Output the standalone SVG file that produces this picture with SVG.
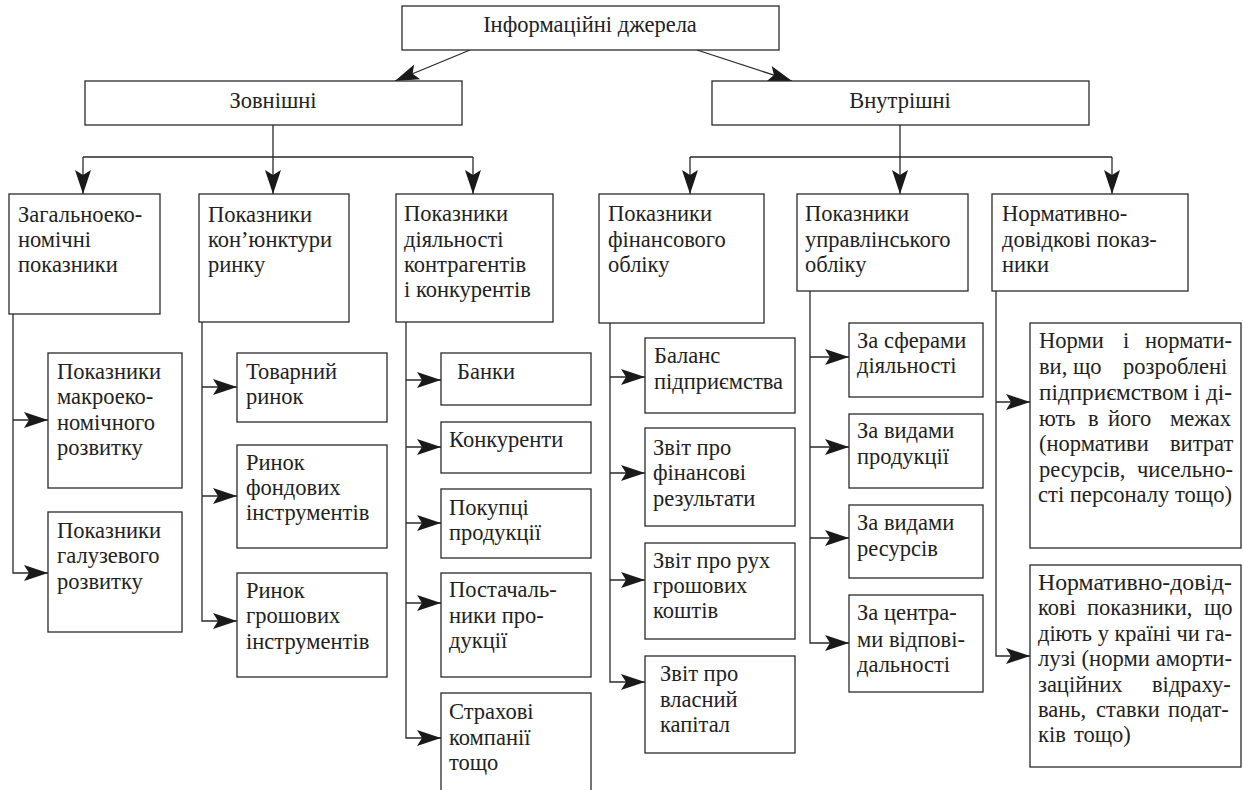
<svg xmlns="http://www.w3.org/2000/svg" width="1243" height="790" viewBox="0 0 1243 790">
<defs>
<marker id="ah" viewBox="-26 -9 27 18" refX="0" refY="0" markerWidth="27" markerHeight="18" markerUnits="userSpaceOnUse" orient="auto">
<path d="M0,0 L-24,-8 L-19,0 L-24,8 Z" fill="#1a1a1a"/>
</marker>
</defs>

<g id="connectors" fill="none" stroke="#2a2a2a" stroke-width="1.3">
<path d="M273,125 V157 M83,157 H473 M690,157 H1112 M900,125 V157"/>
<g marker-end="url(#ah)">
<path d="M470,50 L395,81"/>
<path d="M697,50 L792,81"/>
<path d="M83,157 V194"/>
<path d="M273,157 V194"/>
<path d="M473,157 V194"/>
<path d="M690,157 V194"/>
<path d="M900,157 V194"/>
<path d="M1112,157 V194"/>
<path d="M13,420 H48"/>
<path d="M13,314 V573 H48"/>
<path d="M202,387 H237"/>
<path d="M202,496 H237"/>
<path d="M202,322 V621 H237"/>
<path d="M406,380 H441"/>
<path d="M406,447 H441"/>
<path d="M406,523 H441"/>
<path d="M406,603 H441"/>
<path d="M406,322 V738 H441"/>
<path d="M610,377 H645"/>
<path d="M610,473 H645"/>
<path d="M610,580 H645"/>
<path d="M610,323 V682 H645"/>
<path d="M810,357 H849"/>
<path d="M810,447 H849"/>
<path d="M810,538 H849"/>
<path d="M810,291 V643 H849"/>
<path d="M996,402 H1030"/>
<path d="M996,291 V656 H1030"/>
</g>
</g>

<g id="boxes" fill="#fff" stroke="#2a2a2a" stroke-width="1.3">
<rect id="b-root" x="402" y="6" width="377" height="44"/>
<rect id="b-external" x="85" y="81" width="377" height="44"/>
<rect id="b-internal" x="712" y="81" width="377" height="44"/>
<rect id="b-general" x="9" y="194" width="151" height="120"/>
<rect id="b-market" x="199" y="194" width="150" height="128"/>
<rect id="b-counterparts" x="396" y="194" width="157" height="128"/>
<rect id="b-finacc" x="599" y="194" width="165" height="129"/>
<rect id="b-mgmtacc" x="797" y="194" width="171" height="97"/>
<rect id="b-normative" x="992" y="194" width="196" height="97"/>
<rect id="b-macro" x="48" y="353" width="134" height="135"/>
<rect id="b-branch" x="48" y="512" width="134" height="120"/>
<rect id="b-goods" x="237" y="353" width="150" height="69"/>
<rect id="b-stock" x="237" y="445" width="150" height="103"/>
<rect id="b-money" x="237" y="573" width="150" height="104"/>
<rect id="b-banks" x="441" y="353" width="150" height="52"/>
<rect id="b-competitors" x="441" y="422" width="150" height="51"/>
<rect id="b-buyers" x="441" y="489" width="150" height="69"/>
<rect id="b-suppliers" x="441" y="573" width="150" height="104"/>
<rect id="b-insurance" x="441" y="693" width="150" height="110"/>
<rect id="b-balance" x="645" y="338" width="150" height="75"/>
<rect id="b-results" x="645" y="428" width="150" height="98"/>
<rect id="b-cashflow" x="645" y="543" width="150" height="96"/>
<rect id="b-equity" x="645" y="656" width="150" height="97"/>
<rect id="b-spheres" x="849" y="323" width="134" height="74"/>
<rect id="b-products" x="849" y="414" width="134" height="74"/>
<rect id="b-resources" x="849" y="505" width="134" height="73"/>
<rect id="b-centers" x="849" y="595" width="134" height="97"/>
<rect id="b-norms" x="1030" y="323" width="211" height="225"/>
<rect id="b-reference" x="1030" y="565" width="211" height="202"/>
</g>

<g id="labels" fill="#222">
<g id="root"><text font-family="Liberation Serif" font-size="22.5" text-anchor="middle" x="590" y="32">Інформаційні джерела</text></g>
<g id="external"><text font-family="Liberation Serif" font-size="22.5" text-anchor="middle" x="273" y="108">Зовнішні</text></g>
<g id="internal"><text font-family="Liberation Serif" font-size="22.5" text-anchor="middle" x="900" y="108">Внутрішні</text></g>
<g id="general"><text font-family="Liberation Serif" font-size="22.5" x="18" y="222">Загальноеко-</text><text font-family="Liberation Serif" font-size="22.5" x="18" y="247">номічні</text><text font-family="Liberation Serif" font-size="22.5" x="18" y="272">показники</text></g>
<g id="market"><text font-family="Liberation Serif" font-size="22.5" x="208" y="222">Показники</text><text font-family="Liberation Serif" font-size="22.5" x="208" y="247">кон’юнктури</text><text font-family="Liberation Serif" font-size="22.5" x="208" y="272">ринку</text></g>
<g id="counterparts"><text font-family="Liberation Serif" font-size="22.5" x="404" y="221">Показники</text><text font-family="Liberation Serif" font-size="22.5" x="404" y="247">діяльності</text><text font-family="Liberation Serif" font-size="22.5" x="404" y="272">контрагентів</text><text font-family="Liberation Serif" font-size="22.5" x="404" y="297">і конкурентів</text></g>
<g id="finacc"><text font-family="Liberation Serif" font-size="22.5" x="608" y="221">Показники</text><text font-family="Liberation Serif" font-size="22.5" x="608" y="247">фінансового</text><text font-family="Liberation Serif" font-size="22.5" x="608" y="272">обліку</text></g>
<g id="mgmtacc"><text font-family="Liberation Serif" font-size="22.5" x="805" y="221">Показники</text><text font-family="Liberation Serif" font-size="22.5" x="805" y="247">управлінського</text><text font-family="Liberation Serif" font-size="22.5" x="805" y="272">обліку</text></g>
<g id="normative"><text font-family="Liberation Serif" font-size="22.5" x="1002" y="221">Нормативно-</text><text font-family="Liberation Serif" font-size="22.5" x="1002" y="247">довідкові показ-</text><text font-family="Liberation Serif" font-size="22.5" x="1002" y="272">ники</text></g>
<g id="macro"><text font-family="Liberation Serif" font-size="22.5" x="57" y="379">Показники</text><text font-family="Liberation Serif" font-size="22.5" x="57" y="404">макроеко-</text><text font-family="Liberation Serif" font-size="22.5" x="57" y="430">номічного</text><text font-family="Liberation Serif" font-size="22.5" x="57" y="455">розвитку</text></g>
<g id="branch"><text font-family="Liberation Serif" font-size="22.5" x="57" y="538">Показники</text><text font-family="Liberation Serif" font-size="22.5" x="57" y="563">галузевого</text><text font-family="Liberation Serif" font-size="22.5" x="57" y="589">розвитку</text></g>
<g id="goods"><text font-family="Liberation Serif" font-size="22.5" x="246" y="379">Товарний</text><text font-family="Liberation Serif" font-size="22.5" x="246" y="404">ринок</text></g>
<g id="stock"><text font-family="Liberation Serif" font-size="22.5" x="246" y="470">Ринок</text><text font-family="Liberation Serif" font-size="22.5" x="246" y="495">фондових</text><text font-family="Liberation Serif" font-size="22.5" x="246" y="520">інструментів</text></g>
<g id="money"><text font-family="Liberation Serif" font-size="22.5" x="246" y="598">Ринок</text><text font-family="Liberation Serif" font-size="22.5" x="246" y="623">грошових</text><text font-family="Liberation Serif" font-size="22.5" x="246" y="649">інструментів</text></g>
<g id="banks"><text font-family="Liberation Serif" font-size="22.5" x="457" y="379">Банки</text></g>
<g id="competitors"><text font-family="Liberation Serif" font-size="22.5" x="449" y="447">Конкуренти</text></g>
<g id="buyers"><text font-family="Liberation Serif" font-size="22.5" x="449" y="515">Покупці</text><text font-family="Liberation Serif" font-size="22.5" x="449" y="540">продукції</text></g>
<g id="suppliers"><text font-family="Liberation Serif" font-size="22.5" x="449" y="597">Постачаль-</text><text font-family="Liberation Serif" font-size="22.5" x="449" y="623">ники про-</text><text font-family="Liberation Serif" font-size="22.5" x="449" y="648">дукції</text></g>
<g id="insurance"><text font-family="Liberation Serif" font-size="22.5" x="449" y="719">Страхові</text><text font-family="Liberation Serif" font-size="22.5" x="449" y="745">компанії</text><text font-family="Liberation Serif" font-size="22.5" x="449" y="770">тощо</text></g>
<g id="balance"><text font-family="Liberation Serif" font-size="22.5" x="654" y="363">Баланс</text><text font-family="Liberation Serif" font-size="22.5" x="654" y="389">підприємства</text></g>
<g id="results"><text font-family="Liberation Serif" font-size="22.5" x="653" y="455">Звіт про</text><text font-family="Liberation Serif" font-size="22.5" x="653" y="480">фінансові</text><text font-family="Liberation Serif" font-size="22.5" x="653" y="506">результати</text></g>
<g id="cashflow"><text font-family="Liberation Serif" font-size="22.5" x="653" y="568">Звіт про рух</text><text font-family="Liberation Serif" font-size="22.5" x="653" y="593">грошових</text><text font-family="Liberation Serif" font-size="22.5" x="653" y="618">коштів</text></g>
<g id="equity"><text font-family="Liberation Serif" font-size="22.5" x="660" y="681">Звіт про</text><text font-family="Liberation Serif" font-size="22.5" x="660" y="707">власний</text><text font-family="Liberation Serif" font-size="22.5" x="660" y="732">капітал</text></g>
<g id="spheres"><text font-family="Liberation Serif" font-size="22.5" x="857" y="348">За сферами</text><text font-family="Liberation Serif" font-size="22.5" x="857" y="373">діяльності</text></g>
<g id="products"><text font-family="Liberation Serif" font-size="22.5" x="857" y="438">За видами</text><text font-family="Liberation Serif" font-size="22.5" x="857" y="464">продукції</text></g>
<g id="resources"><text font-family="Liberation Serif" font-size="22.5" x="857" y="530">За видами</text><text font-family="Liberation Serif" font-size="22.5" x="857" y="556">ресурсів</text></g>
<g id="centers"><text font-family="Liberation Serif" font-size="22.5" x="857" y="620">За центра-</text><text font-family="Liberation Serif" font-size="22.5" x="857" y="647">ми відпові-</text><text font-family="Liberation Serif" font-size="22.5" x="857" y="672">дальності</text></g>
<g id="norms">
<text font-family="Liberation Serif" font-size="22.5" y="348"><tspan x="1039">Норми</tspan> <tspan x="1123">і</tspan> <tspan x="1145">нормати-</tspan></text>
<text font-family="Liberation Serif" font-size="22.5" y="374"><tspan x="1039">ви,</tspan> <tspan x="1073">що</tspan> <tspan x="1123">розроблені</tspan></text>
<text font-family="Liberation Serif" font-size="22.5" x="1039" y="400" textLength="193" lengthAdjust="spacingAndGlyphs">підприємством і ді-</text>
<text font-family="Liberation Serif" font-size="22.5" y="426"><tspan x="1039">ють</tspan> <tspan x="1088">в</tspan> <tspan x="1108">його</tspan> <tspan x="1170">межах</tspan></text>
<text font-family="Liberation Serif" font-size="22.5" y="451"><tspan x="1039">(нормативи</tspan> <tspan x="1170">витрат</tspan></text>
<text font-family="Liberation Serif" font-size="22.5" y="477"><tspan x="1039">ресурсів,</tspan> <tspan x="1137">чисельно-</tspan></text>
<text font-family="Liberation Serif" font-size="22.5" x="1038" y="502" textLength="194" lengthAdjust="spacingAndGlyphs">сті персоналу тощо)</text></g>
<g id="reference">
<text font-family="Liberation Serif" font-size="22.5" x="1038" y="590" textLength="194" lengthAdjust="spacingAndGlyphs">Нормативно-довід-</text>
<text font-family="Liberation Serif" font-size="22.5" y="615"><tspan x="1038">кові</tspan> <tspan x="1087">показники,</tspan> <tspan x="1204">що</tspan></text>
<text font-family="Liberation Serif" font-size="22.5" x="1038" y="641" textLength="194" lengthAdjust="spacingAndGlyphs">діють у країні чи га-</text>
<text font-family="Liberation Serif" font-size="22.5" x="1038" y="666" textLength="194" lengthAdjust="spacingAndGlyphs">лузі (норми аморти-</text>
<text font-family="Liberation Serif" font-size="22.5" y="692"><tspan x="1038">заційних</tspan> <tspan x="1152">відраху-</tspan></text>
<text font-family="Liberation Serif" font-size="22.5" y="717"><tspan x="1038">вань,</tspan> <tspan x="1096">ставки</tspan> <tspan x="1168">подат-</tspan></text>
<text font-family="Liberation Serif" font-size="22.5" y="742"><tspan x="1038">ків</tspan> <tspan x="1074">тощо)</tspan></text></g>
</g>
</svg>
